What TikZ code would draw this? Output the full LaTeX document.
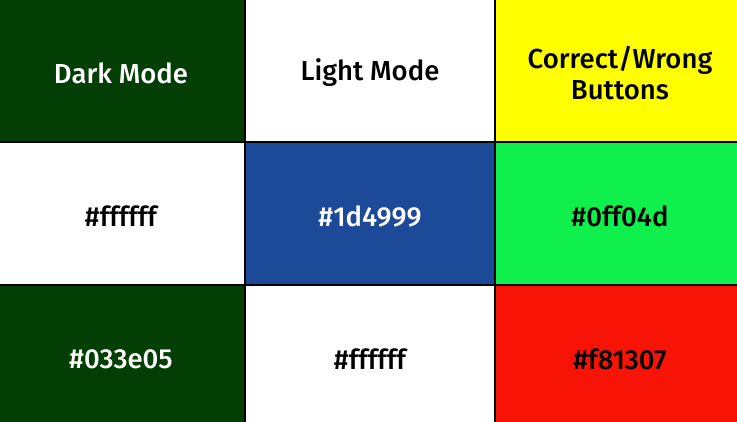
\documentclass[tikz,border=0pt]{standalone}
\usepackage{fontspec}
\setmainfont{Fira Sans}[BoldFont={Fira Sans Medium}]
\definecolor{darkg}{HTML}{033E05}
\definecolor{blu}{HTML}{1D4999}
\definecolor{grn}{HTML}{0FF04D}
\definecolor{rd}{HTML}{F81307}
\definecolor{yel}{HTML}{FFFF00}
\begin{document}
\begin{tikzpicture}[x=1pt,y=-1pt,
  lbl/.style={font=\fontsize{27.5}{31}\selectfont\bfseries, align=center, inner sep=0pt},
  gridline/.style={line width=2.6pt, black}]
\useasboundingbox (0,0) rectangle (737,422);
% cells
\fill[darkg] (0,0) rectangle (245,142);
\fill[white] (245,0) rectangle (495,142);
\fill[yel] (495,0) rectangle (737,142);
\fill[white] (0,142) rectangle (245,285);
\fill[blu] (245,142) rectangle (495,285);
\fill[grn] (495,142) rectangle (737,285);
\fill[darkg] (0,285) rectangle (245,422);
\fill[white] (245,285) rectangle (495,422);
\fill[rd] (495,285) rectangle (737,422);
% grid lines
\draw[gridline] (245,0) -- (245,422);
\draw[gridline] (495,0) -- (495,422);
\draw[gridline] (0,142) -- (737,142);
\draw[gridline] (0,285) -- (737,285);
% labels
\node[lbl, text=white] (dm) at (121,73) {Dark Mode};
\node[lbl, text=black] (lm) at (370,73) {Light Mode};
\node[lbl, text=black] (cw) at (620,73) {Correct/Wrong\\Buttons};
\node[lbl, text=black] (c21) at (121,216) {\#ffffff};
\node[lbl, text=white] (c22) at (370,216) {\#1d4999};
\node[lbl, text=black] (c23) at (620,216) {\#0ff04d};
\node[lbl, text=white] (c31) at (121,359) {\#033e05};
\node[lbl, text=black] (c32) at (370,359) {\#ffffff};
\node[lbl, text=black] (c33) at (620,359) {\#f81307};
\end{tikzpicture}
\end{document}
